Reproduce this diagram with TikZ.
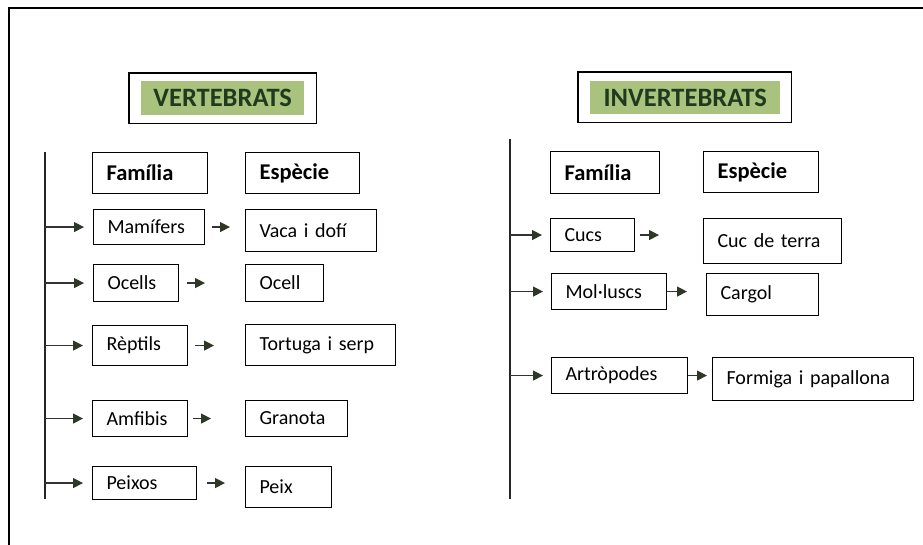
\documentclass[tikz,border=0pt]{standalone}
\usepackage{fontspec}
\setmainfont{Carlito}
\usetikzlibrary{arrows.meta}
\definecolor{titlegreen}{HTML}{A9C27E}
\definecolor{titleink}{HTML}{1F3A1C}
\definecolor{arrowink}{HTML}{2F3827}

\begin{document}
\begin{tikzpicture}[x=1pt, y=-1pt,
    box/.style={draw, line width=1.1pt, anchor=north west, inner xsep=14pt, inner ysep=0pt, align=left, font=\fontsize{20}{22}\selectfont},
    headbox/.style={box, font=\fontsize{22.5}{24}\selectfont\bfseries},
    title/.style={fill=titlegreen, text=titleink, anchor=north west, inner sep=0pt, font=\fontsize{26.5}{28}\selectfont\bfseries},
    arr/.style={line width=1.2pt, draw=black!80, -{Triangle[length=10pt,width=10pt,color=arrowink]}}]
    \useasboundingbox (0,0) rectangle (923,545);
    \draw[line width=2pt] (923,8) -- (9,8) -- (9,545);

    % vertebrats
    \node[title, minimum width=163pt, minimum height=34pt] (vert) at (141,81) {VERTEBRATS};
    \draw[line width=1.2pt] ([xshift=-12pt,yshift=8pt]vert.north west) rectangle ([xshift=12pt,yshift=-8pt]vert.south east);
    \node[headbox, text width=87pt, minimum height=41pt] (famA) at (92,152) {Família};
    \node[headbox, text width=86pt, minimum height=41pt] (espA) at (245,152) {Espècie};
    \node[box, text width=83pt, minimum height=35pt] (mam) at (93,209) {Mamífers};
    \node[box, text width=103pt, minimum height=42pt] (vaca) at (245,209) {Vaca i dofí};
    \node[box, text width=57pt, minimum height=37pt] (oce) at (93,264) {Ocells};
    \node[box, text width=50pt, minimum height=37pt] (ocell) at (245,264) {Ocell};
    \node[box, text width=67pt, minimum height=40pt] (rep) at (92,325) {Rèptils};
    \node[box, text width=122pt, minimum height=41pt] (tort) at (245,324) {Tortuga i serp};
    \node[box, text width=67pt, minimum height=36pt] (amf) at (92,400) {Amfibis};
    \node[box, text width=74pt, minimum height=36pt] (gran) at (245,400) {Granota};
    \node[box, text width=76pt, minimum height=33pt] (pei) at (92,466) {Peixos};
    \node[box, text width=58pt, minimum height=41pt] (peix) at (245,466) {Peix};

    \coordinate (lineAtop) at (45,152);
    \coordinate (lineAbot) at (45,499);
    \draw[line width=1.4pt, black!85] (lineAtop) -- (lineAbot);
    \foreach \n in {mam,oce,rep,amf,pei}
      \draw[arr, shorten >=9pt] (lineAtop |- \n.west) -- (\n.west);
    \foreach \f/\s/\a/\g in {mam/vaca/7pt/15pt, oce/ocell/8pt/40pt, rep/tort/7pt/31pt, amf/gran/5pt/34pt, pei/peix/10pt/20pt}
      \draw[arr, shorten <=\a, shorten >=\g] (\f.east) -- (\f.east -| \s.west);

    % invertebrats
    \node[title, minimum width=190pt, minimum height=33pt] (invert) at (590,81) {INVERTEBRATS};
    \draw[line width=1.2pt] ([xshift=-12pt,yshift=9pt]invert.north west) rectangle ([xshift=11pt,yshift=-8pt]invert.south east);
    \node[headbox, text width=81pt, minimum height=42pt] (famB) at (550,151) {Família};
    \node[headbox, text width=87pt, minimum height=41pt] (espB) at (703,151) {Espècie};
    \node[box, text width=56pt, minimum height=33pt] (cucs) at (550,218) {Cucs};
    \node[box, text width=110pt, minimum height=45pt] (cuc) at (703,218) {Cuc de terra};
    \node[box, text width=87pt, minimum height=36pt] (mol) at (551,273) {Mol·luscs};
    \node[box, text width=84pt, minimum height=42pt] (carg) at (706,273) {Cargol};
    \node[box, text width=108pt, minimum height=36pt] (artr) at (551,357) {Artròpodes};
    \node[box, text width=173pt, minimum height=43pt] (form) at (712,357) {Formiga i papallona};

    \coordinate (lineBtop) at (510,139);
    \coordinate (lineBbot) at (510,499);
    \draw[line width=1.4pt, black!85] (lineBtop) -- (lineBbot);
    \foreach \n in {cucs,mol,artr}
      \draw[arr, shorten >=8pt] (lineBtop |- \n.west) -- (\n.west);
    \foreach \f/\s/\a/\g in {cucs/cuc/5pt/44pt, mol/carg/0pt/19pt, artr/form/0pt/5pt}
      \draw[arr, shorten <=\a, shorten >=\g] (\f.east) -- (\f.east -| \s.west);
\end{tikzpicture}
\end{document}
